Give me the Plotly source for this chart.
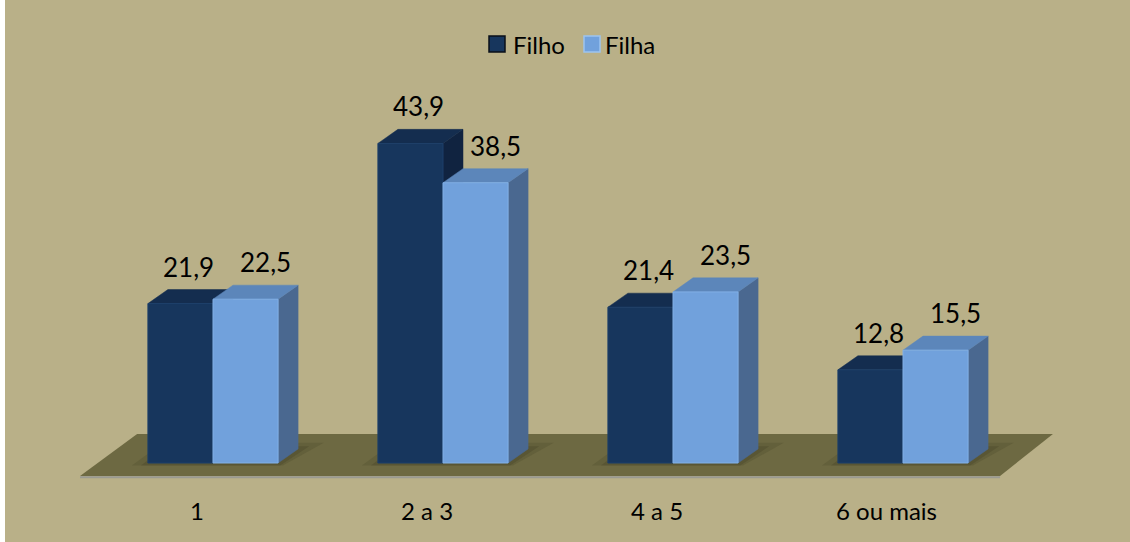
import plotly.graph_objects as go

# Number of children per family, share of respondents (%)
categories = ["1", "2 a 3", "4 a 5", "6 ou mais"]
filho = [21.9, 43.9, 21.4, 12.8]
filha = [22.5, 38.5, 23.5, 15.5]
series_names = ["Filho", "Filha"]

# Colours: front, top, side for each series
FILHO_FRONT, FILHO_TOP, FILHO_SIDE = "#17365d", "#142d4f", "#102340"
FILHA_FRONT, FILHA_TOP, FILHA_SIDE = "#71a1dc", "#5c86ba", "#4a6890"
BG = "#b9b088"
FLOOR = "#6d6942"
FONT = "Lato"

# Pseudo-3D geometry in axis units
W = 0.283        # bar width (category units)
DX = 0.087       # depth offset along x
DY = 1.93        # depth offset along y (value units)
xs = list(range(len(categories)))

X_RANGE = [(5 - 213) / 230, (1130 - 213) / 230]
Y_RANGE = [-79 / 7.28, 463 / 7.28]


def poly(points):
    return "M " + " L ".join(f"{x},{y}" for x, y in points) + " Z"


shapes = []

# Floor slab
floor_front_y, floor_back_y = -1.786, 3.98
shapes.append(dict(type="path", xref="x", yref="y", layer="below",
                   path=poly([(-0.578, floor_front_y), (3.422, floor_front_y),
                              (3.652, floor_back_y), (-0.330, floor_back_y)]),
                   fillcolor=FLOOR, line=dict(width=0)))
shapes.append(dict(type="line", xref="x", yref="y", layer="below",
                   x0=-0.578, x1=3.422, y0=floor_front_y - 0.18, y1=floor_front_y - 0.18,
                   line=dict(color="#9a9a92", width=2)))

# Soft shadows around each bar pair's base
for i in xs:
    for grow, op in ((0.07, 0.18), (0.03, 0.25)):
        shapes.append(dict(type="path", xref="x", yref="y", layer="below",
                           path=poly([(i - W - grow, -0.35), (i + W + grow * 0.3, -0.35),
                                      (i + W + DX + grow * 1.6, DY + grow * 12),
                                      (i - W + DX - grow * 0.3, DY + grow * 12)]),
                           fillcolor="#3a361e", opacity=op, line=dict(width=0)))


def box_faces(x0, x1, v, top_col, side_col):
    side = dict(type="path", xref="x", yref="y", layer="below",
                path=poly([(x1, 0), (x1, v), (x1 + DX, v + DY), (x1 + DX, DY)]),
                fillcolor=side_col, line=dict(color=side_col, width=0.5))
    top = dict(type="path", xref="x", yref="y", layer="below",
               path=poly([(x0, v), (x0 + DX, v + DY), (x1 + DX, v + DY), (x1, v)]),
               fillcolor=top_col, line=dict(color=top_col, width=0.5))
    return [side, top]


for i in xs:
    shapes += box_faces(i - W, i, filho[i], FILHO_TOP, FILHO_SIDE)
for i in xs:
    shapes += box_faces(i, i + W, filha[i], FILHA_TOP, FILHA_SIDE)

fig = go.Figure()
fig.add_trace(go.Bar(x=xs, y=filho, width=W, offset=-W, name=series_names[0],
                     marker=dict(color=FILHO_FRONT, line=dict(color="#1d3f6a", width=1)),
                     showlegend=False, hoverinfo="skip"))
fig.add_trace(go.Bar(x=xs, y=filha, width=W, offset=0, name=series_names[1],
                     marker=dict(color=FILHA_FRONT, line=dict(color="#82b0e6", width=1)),
                     showlegend=False, hoverinfo="skip"))

annotations = []
# Value labels above each box (Filho nudged slightly, Filha shifted by the depth)
for i in xs:
    for vals, off in ((filho, -W / 2 + DX * 0.4), (filha, W / 2 + DX)):
        annotations.append(dict(x=i + off, y=vals[i] + DY, xref="x", yref="y",
                                text=f"{vals[i]:.1f}".replace(".", ","), showarrow=False,
                                yanchor="bottom", yshift=5,
                                font=dict(family=FONT, size=26, color="black")))
# Category labels under the floor
for i, c in enumerate(categories):
    annotations.append(dict(x=i - 0.07, y=-6.46, xref="x", yref="y", text=c,
                            showarrow=False, font=dict(family=FONT, size=24, color="black")))

# Legend (top centre): swatch left edge, text left edge (px)
legend_items = [(series_names[0], FILHO_FRONT, "#0a0f18", 489, 511),
                (series_names[1], FILHA_FRONT, "#9cc3ef", 584, 603)]
for name, col, edge, px, tx in legend_items:
    shapes.append(dict(type="rect", xref="paper", yref="paper",
                       x0=px / 1130, x1=(px + 16) / 1130,
                       y0=1 - 52 / 542, y1=1 - 36 / 542,
                       fillcolor=col, line=dict(color=edge, width=1.5)))
    annotations.append(dict(x=tx / 1130, y=1 - 44 / 542, xref="paper", yref="paper",
                            text=name, showarrow=False, xanchor="left", yanchor="middle",
                            font=dict(family=FONT, size=24, color="black")))

fig.update_layout(
    width=1130, height=542,
    margin=dict(l=0, r=0, t=0, b=0),
    paper_bgcolor="white", plot_bgcolor=BG,
    barmode="overlay",
    xaxis=dict(range=X_RANGE, domain=[5 / 1130, 1], visible=False, fixedrange=True),
    yaxis=dict(range=Y_RANGE, visible=False, fixedrange=True),
    shapes=shapes, annotations=annotations,
    showlegend=False,
)

fig.write_html("out.html")
